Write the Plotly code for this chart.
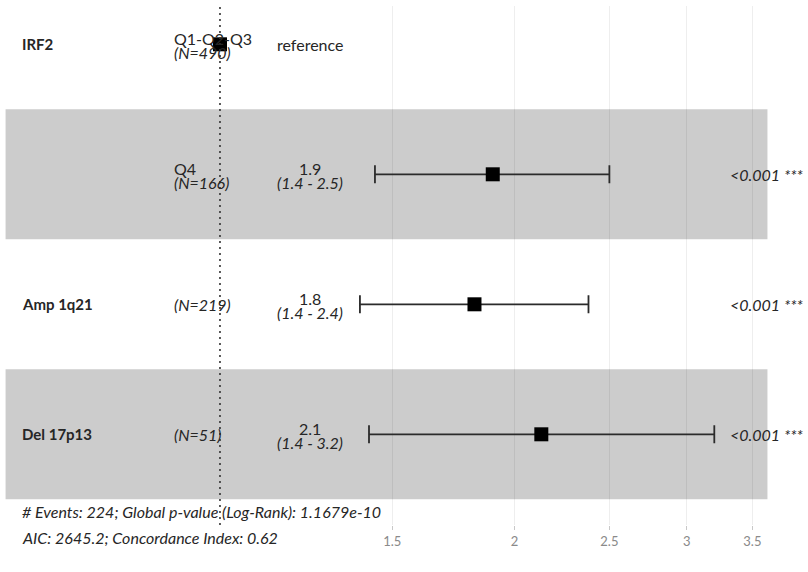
import math
import plotly.graph_objects as go

# Cox model summary: one row per displayed term level
variables = ["IRF2", "", "Amp 1q21", "Del 17p13"]
levels = ["Q1-Q2-Q3", "Q4", "", ""]
n_obs = [490, 166, 219, 51]
hazard_ratio = [1.0, 1.90, 1.82, 2.13]
ci_low = [None, 1.44, 1.39, 1.42]
ci_high = [None, 2.50, 2.38, 3.20]
p_text = ["", "<0.001 ***", "<0.001 ***", "<0.001 ***"]

n_events = 224
global_p = "1.1679e-10"
aic = 2645.2
concordance = 0.62

tick_vals = [1.5, 2, 2.5, 3, 3.5]
tick_text = ["1.5", "2", "2.5", "3", "3.5"]

FONT = "Lato"
TXT = "#262626"
FS = 16
FS_BOLD = 15

n = len(variables)
ypos = [n - i for i in range(n)]  # top row first

# horizontal layout follows the forest-plot convention: range of CIs on log scale
lows = [v for v in ci_low if v is not None]
highs = [v for v in ci_high if v is not None]
rb0, rb1 = math.log(min(lows)), math.log(max(highs))
span = rb1 - rb0
rp0, rp1 = rb0 - span, rb1 + 0.15 * span
width = rp1 - rp0
x_var = math.exp(rp0 + 0.02 * width)
x_lvl = math.exp(rp0 + 0.22 * width)
x_ci = math.exp(rp0 + 0.40 * width)
x_stars = math.exp(rb1)

fig = go.Figure()

# estimates with confidence intervals
idx = [i for i in range(n) if ci_low[i] is not None]
fig.add_trace(go.Scatter(
    x=[hazard_ratio[i] for i in idx],
    y=[ypos[i] for i in idx],
    mode="markers",
    marker=dict(symbol="square", size=14, color="black"),
    error_x=dict(
        type="data", symmetric=False,
        array=[ci_high[i] - hazard_ratio[i] for i in idx],
        arrayminus=[hazard_ratio[i] - ci_low[i] for i in idx],
        color="#2b2b2b", thickness=1.8, width=9,
    ),
    hoverinfo="skip", showlegend=False,
))
# reference level
ref = [i for i in range(n) if ci_low[i] is None]
fig.add_trace(go.Scatter(
    x=[hazard_ratio[i] for i in ref],
    y=[ypos[i] for i in ref],
    mode="markers",
    marker=dict(symbol="square", size=14, color="black"),
    hoverinfo="skip", showlegend=False,
))

shapes = []
for i in range(n):
    if i % 2 == 1:
        shapes.append(dict(
            type="rect", xref="x", yref="y",
            x0=math.exp(rp0), x1=math.exp(rp1),
            y0=ypos[i] - 0.5, y1=ypos[i] + 0.5,
            fillcolor="rgba(0,0,0,0.2)", line=dict(width=0), layer="between",
        ))
shapes.append(dict(
    type="line", xref="x", yref="paper", x0=1, x1=1, y0=0, y1=1,
    line=dict(color="#333333", width=1.6, dash="2px,4px"), layer="above",
))

ann = []
def text(x, y, s, anchor="left", yshift=0, xshift=0, size=FS):
    ann.append(dict(
        x=math.log10(x), y=y, xref="x", yref="y", text=s, showarrow=False,
        xanchor=anchor, yanchor="middle", yshift=yshift, xshift=xshift,
        font=dict(family=FONT, size=size, color=TXT), borderpad=0,
    ))

for i in range(n):
    y = ypos[i]
    if variables[i]:
        text(x_var, y, f"<b>{variables[i]}</b>", size=FS_BOLD)
    if levels[i]:
        text(x_lvl, y, levels[i], yshift=5.5)
        text(x_lvl, y, f"<i>(N={n_obs[i]})</i>", yshift=-8.5)
    else:
        text(x_lvl, y, f"<i>(N={n_obs[i]})</i>")
    if ci_low[i] is None:
        text(x_ci, y, "reference", anchor="center")
    else:
        text(x_ci, y, f"{hazard_ratio[i]:.1f}", anchor="center", yshift=6)
        text(x_ci, y, f"<i>({ci_low[i]:.1f} - {ci_high[i]:.1f})</i>",
             anchor="center", yshift=-8.5)
    if p_text[i]:
        text(x_stars, y, f"<i>{p_text[i]}</i>", xshift=15)

text(x_var, 0.5, f"<i># Events: {n_events}; Global p-value (Log-Rank): {global_p}</i>",
     yshift=-12)
text(x_var, 0.5, f"<i>AIC: {aic}; Concordance Index: {concordance}</i>", yshift=-38)

fig.update_layout(
    width=808, height=572,
    margin=dict(l=0, r=0, t=6, b=47),
    paper_bgcolor="white", plot_bgcolor="white",
    shapes=shapes, annotations=ann,
    xaxis=dict(
        type="log", range=[-0.2248, 0.6009],
        tickvals=tick_vals, ticktext=tick_text,
        showgrid=True, gridcolor="#EEEEEE", gridwidth=1.2,
        zeroline=False, showline=False,
        ticks="outside", ticklen=4, tickcolor="#C8C8C8",
        tickfont=dict(family=FONT, size=13, color="#8a8a8a"),
    ),
    yaxis=dict(range=[0.3023, 4.2946], visible=False, showgrid=False, zeroline=False),
)

fig.write_html("out.html")
